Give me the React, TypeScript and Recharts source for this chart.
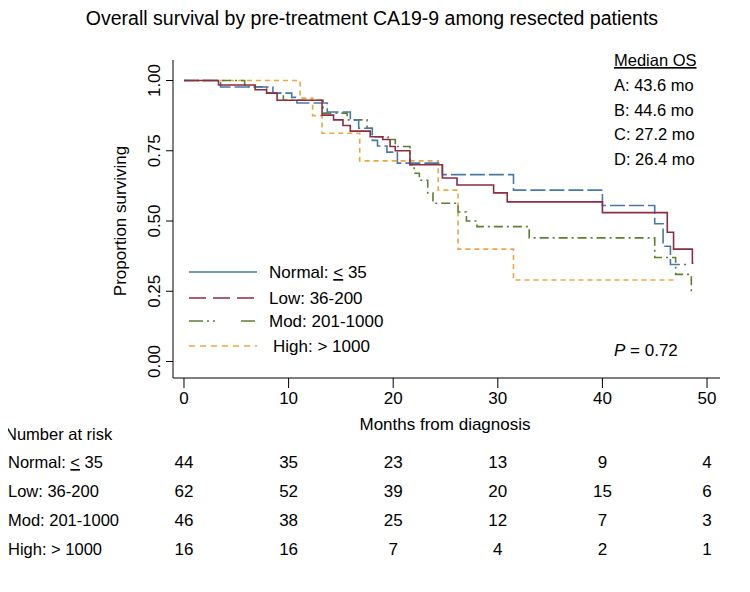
import React from 'react';
import { LineChart, Line, XAxis, YAxis, ReferenceDot } from 'recharts';

// ---------- survival step data (months, proportion surviving) ----------
const normalTimes = [0, 3.5, 8.5, 10.3, 10.8, 13.7, 15.9, 16.7, 18.0, 18.5, 19.4, 20.4, 24.7, 31.5, 40.0, 45.0, 45.8, 46.5, 48.0];
const normalSurv = [1.0, 0.977, 0.955, 0.94, 0.92, 0.888, 0.86, 0.83, 0.787, 0.767, 0.745, 0.706, 0.665, 0.61, 0.555, 0.49, 0.41, 0.345, 0.345];

const lowTimes = [0, 3.3, 6.8, 7.9, 8.9, 13.2, 14.3, 15.2, 15.9, 17.8, 19.0, 19.7, 20.2, 21.6, 24.7, 26.1, 29.6, 30.9, 40.0, 46.2, 46.8, 48.6, 48.7];
const lowSurv = [1.0, 0.984, 0.967, 0.955, 0.93, 0.877, 0.86, 0.84, 0.82, 0.8, 0.79, 0.765, 0.75, 0.7, 0.653, 0.628, 0.6, 0.568, 0.53, 0.46, 0.4, 0.35, 0.35];

const modTimes = [0, 5.8, 7.9, 9.5, 13.3, 15.6, 17.5, 18.0, 19.5, 20.2, 21.6, 22.0, 22.5, 23.3, 23.8, 26.2, 27.0, 28.0, 33.0, 45.0, 47.0, 48.5, 48.6];
const modSurv = [1.0, 0.978, 0.955, 0.93, 0.884, 0.86, 0.83, 0.8, 0.79, 0.765, 0.7, 0.67, 0.645, 0.6, 0.563, 0.532, 0.5, 0.48, 0.44, 0.37, 0.31, 0.25, 0.25];

const highTimes = [0, 11.1, 12.3, 13.2, 16.8, 24.3, 26.2, 31.5, 47.0];
const highSurv = [1.0, 0.9375, 0.875, 0.8125, 0.714, 0.61, 0.4, 0.29, 0.29];

// ---------- axes ----------
const xTicks = [0, 10, 20, 30, 40, 50];
const yTicks = [0, 0.25, 0.5, 0.75, 1.0];
const yTickLabels = ['0.00', '0.25', '0.50', '0.75', '1.00'];

// ---------- number at risk ----------
const riskTimes = [0, 10, 20, 30, 40, 50];
const riskNormal = [44, 35, 23, 13, 9, 4];
const riskLow = [62, 52, 39, 20, 15, 6];
const riskMod = [46, 38, 25, 12, 7, 3];
const riskHigh = [16, 16, 7, 4, 2, 1];
const riskGroups = ['Normal', 'Low: 36-200', 'Mod: 201-1000', 'High: > 1000'];

// ---------- median OS ----------
const medianLabels = ['A: 43.6 mo', 'B: 44.6 mo', 'C: 27.2 mo', 'D: 26.4 mo'];

const toSeries = (ts: number[], ss: number[]) => ts.map((t, i) => ({ t, s: ss[i] }));

const FONT = '"Liberation Sans", Arial, Helvetica, sans-serif';
const BLUE = '#4a78a6';
const RED = '#8c2d42';
const GREEN = '#5b8030';
const ORANGE = '#f0a443';

// row positions of the risk table, in y-axis units (extrapolated below the plot)
const riskRowPos = [-0.358, -0.461, -0.564, -0.667];

const XTick = (props: any) => {
  const { x, y, payload } = props;
  return (
    <text x={x} y={y + 16} textAnchor="middle" fontFamily={FONT} fontSize={17} fill="#000">
      {payload.value}
    </text>
  );
};

const YTick = (props: any) => {
  const { x, y, payload } = props;
  const idx = yTicks.indexOf(payload.value);
  return (
    <text x={x} y={y} transform={`rotate(-90, ${x}, ${y})`} textAnchor="middle" fontFamily={FONT} fontSize={17} fill="#000">
      {idx >= 0 ? yTickLabels[idx] : payload.value}
    </text>
  );
};

const riskRows = [riskNormal, riskLow, riskMod, riskHigh];

export default function App() {
  return (
    <div style={{ position: 'relative', width: 734, height: 576, fontFamily: FONT }}>
      <LineChart width={734} height={576} margin={{ top: 52, right: 22, bottom: 156, left: 0 }}>
        <XAxis
          type="number"
          dataKey="t"
          domain={[-1.05, 51.24]}
          ticks={xTicks}
          allowDataOverflow
          height={50}
          tickSize={10}
          tickMargin={0}
          stroke="#000"
          tick={<XTick />}
        />
        <YAxis
          type="number"
          dataKey="s"
          domain={[-0.0587, 1.073]}
          ticks={yTicks}
          allowDataOverflow
          width={165}
          tickSize={7}
          tickMargin={6}
          stroke="#000"
          tick={<YTick />}
        />
        <Line data={toSeries(highTimes, highSurv)} dataKey="s" type="stepAfter" stroke={ORANGE} strokeWidth={1.6} strokeDasharray="5 4" dot={false} isAnimationActive={false} />
        <Line data={toSeries(modTimes, modSurv)} dataKey="s" type="stepAfter" stroke={GREEN} strokeWidth={1.6} strokeDasharray="9 4 2 4" dot={false} isAnimationActive={false} />
        <Line data={toSeries(normalTimes, normalSurv)} dataKey="s" type="stepAfter" stroke={BLUE} strokeWidth={1.6} strokeDasharray="15 4" dot={false} isAnimationActive={false} />
        <Line data={toSeries(lowTimes, lowSurv)} dataKey="s" type="stepAfter" stroke={RED} strokeWidth={1.6} dot={false} isAnimationActive={false} />
        {riskRows.map((row, r) =>
          row.map((n, i) => (
            <ReferenceDot
              key={`r${r}-${i}`}
              x={riskTimes[i]}
              y={riskRowPos[r]}
              r={0}
              fill="none"
              stroke="none"
              ifOverflow="visible"
              label={{ value: String(n), position: 'center', fill: '#000', fontSize: 17, fontFamily: FONT }}
            />
          ))
        )}
      </LineChart>
      <svg width={750} height={592} style={{ position: 'absolute', left: -8, top: -8, pointerEvents: 'none', overflow: 'visible' }} fontFamily={FONT}>
        <text x={372} y={25} textAnchor="middle" fontSize={19.5} fill="#000">
          Overall survival by pre-treatment CA19-9 among resected patients
        </text>
        <text x={0} y={0} transform="translate(126, 221) rotate(-90)" textAnchor="middle" fontSize={17} fill="#000">
          Proportion surviving
        </text>
        <text x={445} y={430} textAnchor="middle" fontSize={17} fill="#000">Months from diagnosis</text>

        <text x={614} y={66} fontSize={16.5} fill="#000" textDecoration="underline">Median OS</text>
        {medianLabels.map((m, i) => (
          <text key={m} x={614} y={91 + i * 24.7} fontSize={16.5} fill="#000">{m}</text>
        ))}
        <text x={614} y={356} fontSize={17} fill="#000"><tspan fontStyle="italic">P</tspan> = 0.72</text>

        <g>
          <line x1={189} x2={257} y1={272} y2={272} stroke={BLUE} strokeWidth={1.6} />
          <line x1={189} x2={257} y1={298} y2={298} stroke={RED} strokeWidth={1.6} strokeDasharray="17 7" />
          <line x1={189} x2={257} y1={321} y2={321} stroke={GREEN} strokeWidth={1.6} strokeDasharray="14 4 2 4 2 26" />
          <line x1={189} x2={257} y1={346} y2={346} stroke={ORANGE} strokeWidth={1.6} strokeDasharray="6 5" />
          <text x={269} y={278} fontSize={17} fill="#000">Normal: <tspan textDecoration="underline">&lt;</tspan> 35</text>
          <text x={269} y={304} fontSize={17} fill="#000">Low: 36-200</text>
          <text x={269} y={327} fontSize={17} fill="#000">Mod: 201-1000</text>
          <text x={273} y={352} fontSize={17} fill="#000">High: &gt; 1000</text>
        </g>

        <text x={5} y={440} fontSize={16.5} fill="#000">Number at risk</text>
        <text x={8} y={468} fontSize={16.5} fill="#000">Normal: <tspan textDecoration="underline">&lt;</tspan> 35</text>
        <text x={8} y={497} fontSize={16.5} fill="#000">{riskGroups[1]}</text>
        <text x={8} y={526} fontSize={16.5} fill="#000">{riskGroups[2]}</text>
        <text x={8} y={555} fontSize={16.5} fill="#000">{riskGroups[3]}</text>
      </svg>
    </div>
  );
}
